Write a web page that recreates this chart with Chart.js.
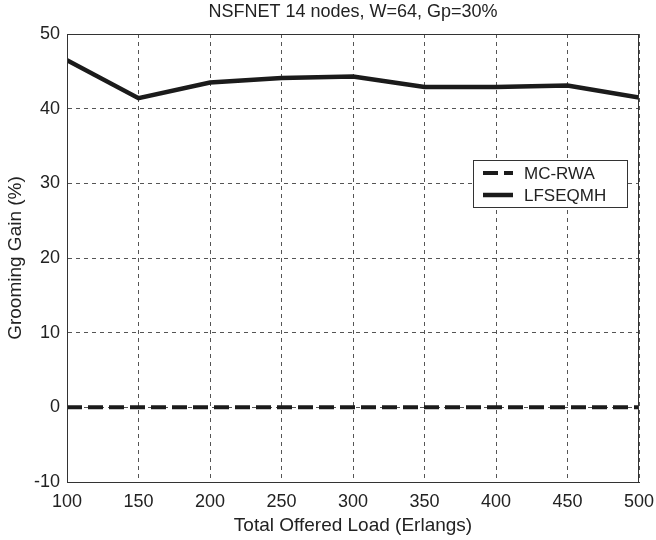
<!DOCTYPE html>
<html>
<head>
<meta charset="utf-8">
<script src="https://cdn.jsdelivr.net/npm/chart.js@4.4.1/dist/chart.umd.min.js"></script>
<style>
  html, body { margin: 0; padding: 0; background: #fff; }
  #c { display: block; }
</style>
</head>
<body>
<canvas id="c" width="656" height="540"></canvas>
<script>
// offered load (Erlangs)
const loads = [100, 150, 200, 250, 300, 350, 400, 450, 500];
// grooming gain, %
const mcRwa = [0, 0, 0, 0, 0, 0, 0, 0, 0];
const lfseqmh = [46.5, 41.4, 43.5, 44.1, 44.3, 42.9, 42.9, 43.1, 41.5];

const xTicks = [100, 150, 200, 250, 300, 350, 400, 450, 500];
const yTicks = [-10, 0, 10, 20, 30, 40, 50];

const ink = '#1b1b1b';
const fontFam = '"Liberation Sans", Arial, sans-serif';

// frame round the plot + boxed legend at the upper right
const framePlugin = {
  id: 'frame',
  afterDatasetsDraw(chart) {
    const { ctx, chartArea: a } = chart;
    ctx.save();
    ctx.strokeStyle = '#333';
    ctx.lineWidth = 1;
    ctx.strokeRect(a.left + 0.5, a.top + 0.5, a.right - a.left - 1, a.bottom - a.top);

    // legend
    const bx = a.right - 166, by = a.top + 126, bw = 154, bh = 47;
    ctx.fillStyle = '#fff';
    ctx.fillRect(bx, by, bw, bh);
    ctx.strokeStyle = '#333';
    ctx.strokeRect(bx + 0.5, by + 0.5, bw, bh);
    ctx.font = '17px ' + fontFam;
    ctx.textBaseline = 'middle';
    chart.data.datasets.forEach((ds, i) => {
      const y = by + 13 + i * 22;
      ctx.beginPath();
      ctx.strokeStyle = ink;
      ctx.lineWidth = ds.borderWidth;
      ctx.setLineDash(ds.borderDash || []);
      ctx.moveTo(bx + 10, y);
      ctx.lineTo(bx + 40, y);
      ctx.stroke();
      ctx.setLineDash([]);
      ctx.fillStyle = '#222';
      ctx.fillText(ds.label, bx + 51, y + 1);
    });
    ctx.restore();
  }
};

new Chart(document.getElementById('c').getContext('2d'), {
  type: 'line',
  data: {
    datasets: [
      {
        label: 'MC-RWA',
        data: loads.map((x, i) => ({ x: x, y: mcRwa[i] })),
        borderColor: ink,
        borderWidth: 4,
        borderDash: [15, 6],
        pointRadius: 0,
        fill: false
      },
      {
        label: 'LFSEQMH',
        data: loads.map((x, i) => ({ x: x, y: lfseqmh[i] })),
        borderColor: ink,
        borderWidth: 4.5,
        pointRadius: 0,
        fill: false
      }
    ]
  },
  options: {
    responsive: false,
    animation: false,
    layout: { padding: { top: 0, right: 17, left: 0, bottom: 0 } },
    plugins: {
      legend: { display: false },
      tooltip: { enabled: false },
      title: {
        display: true,
        fullSize: false,
        text: 'NSFNET 14 nodes, W=64, Gp=30%',
        color: '#222',
        font: { family: fontFam, size: 18, weight: 'normal' },
        padding: { top: 1, bottom: 11.4 }
      }
    },
    scales: {
      x: {
        type: 'linear',
        min: 100,
        max: 500,
        afterBuildTicks: s => { s.ticks = xTicks.map(v => ({ value: v })); },
        afterFit: s => {
          s.height = 58;
          // let the end labels hang over the margins
          s.paddingLeft = 0;
          s.paddingRight = 0;
        },
        grid: {
          color: '#555',
          lineWidth: 1,
          drawTicks: false
        },
        border: { display: true, color: '#333', dash: [4, 4] },
        ticks: {
          color: '#222',
          padding: 9,
          font: { family: fontFam, size: 18 },
          autoSkip: false,
          maxRotation: 0
        },
        title: {
          display: true,
          text: 'Total Offered Load (Erlangs)',
          color: '#222',
          font: { family: fontFam, size: 19 },
          padding: { top: 0, bottom: 3 }
        }
      },
      y: {
        min: -10,
        max: 50,
        afterBuildTicks: s => { s.ticks = yTicks.map(v => ({ value: v })); },
        afterFit: s => {
          s.width = 67;
          s.paddingTop = 0;
          s.paddingBottom = 0;
        },
        grid: {
          color: '#555',
          lineWidth: 1,
          drawTicks: false
        },
        border: { display: true, color: '#333', dash: [4, 4] },
        ticks: {
          color: '#222',
          padding: 7,
          font: { family: fontFam, size: 18 }
        },
        title: {
          display: true,
          text: 'Grooming Gain (%)',
          color: '#222',
          font: { family: fontFam, size: 19 },
          padding: { top: 4, bottom: 8 }
        }
      }
    }
  },
  plugins: [framePlugin]
});
</script>
</body>
</html>
